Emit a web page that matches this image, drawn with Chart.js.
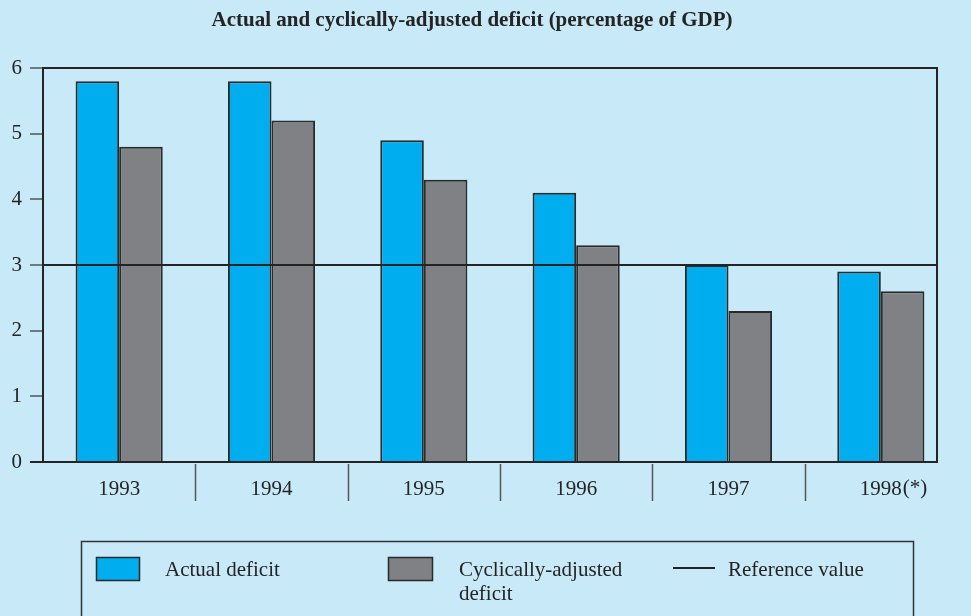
<!DOCTYPE html>
<html><head><meta charset="utf-8">
<script src="https://cdn.jsdelivr.net/npm/chart.js@4"></script>
<style>html,body{margin:0;padding:0;background:#c8e9f8;overflow:hidden}#wrap{width:971px;height:616px;position:relative}</style>
</head><body><div id="wrap"><canvas id="c" width="971" height="616"></canvas></div>
<script>
// ---- data ----
const categories = ['1993', '1994', '1995', '1996', '1997', '1998'];
const categoryNotes = ['', '', '', '', '', '(*)'];
const actualDeficit = [5.8, 5.8, 4.9, 4.1, 3.0, 2.9];
const cyclicallyAdjusted = [4.8, 5.2, 4.3, 3.3, 2.3, 2.6];
const referenceValue = 3;
const yTicks = [0, 1, 2, 3, 4, 5, 6];
const titleText = 'Actual and cyclically-adjusted deficit (percentage of GDP)';
const legendLabels = ['Actual deficit', ['Cyclically-adjusted', 'deficit'], 'Reference value'];

// ---- styles / layout ----
const SERIF = '"Liberation Serif", "Times New Roman", serif';
const BLUE = '#00aeef', GREY = '#808184', DARK = '#242424', TICKGREY = '#6b7c85';
const PLOT_RIGHT = 937;

const decor = {
  id: 'decor',
  afterDatasetsDraw(chart) {
    const {ctx, chartArea, scales} = chart;
    const y = scales.y;
    ctx.save();
    ctx.strokeStyle = DARK; ctx.lineWidth = 2;
    // reference line
    const yr = y.getPixelForValue(referenceValue);
    ctx.beginPath(); ctx.moveTo(chartArea.left, yr); ctx.lineTo(PLOT_RIGHT, yr); ctx.stroke();
    // frame (top, right, bottom)
    ctx.beginPath();
    ctx.moveTo(chartArea.left, chartArea.top);
    ctx.lineTo(PLOT_RIGHT, chartArea.top);
    ctx.lineTo(PLOT_RIGHT, chartArea.bottom);
    ctx.lineTo(chartArea.left - 13, chartArea.bottom);
    ctx.stroke();
    ctx.restore();
  },
  afterDraw(chart) {
    const {ctx, chartArea, scales} = chart;
    const x = scales.x;
    ctx.save();
    // category separators below axis
    ctx.strokeStyle = '#555'; ctx.lineWidth = 1.5;
    for (let i = 1; i < categories.length; i++) {
      const px = Math.round((x.getPixelForValue(i - 1) + x.getPixelForValue(i)) / 2) + 0.5;
      ctx.beginPath(); ctx.moveTo(px, chartArea.bottom + 2); ctx.lineTo(px, chartArea.bottom + 39); ctx.stroke();
    }
    // footnote marks after category labels
    ctx.font = '21px ' + SERIF; ctx.fillStyle = DARK; ctx.textBaseline = 'middle';
    categories.forEach((c, i) => {
      if (!categoryNotes[i]) return;
      const w = ctx.measureText(c).width;
      ctx.textAlign = 'left';
      ctx.fillText(categoryNotes[i], x.getPixelForValue(i) + w / 2 + 1, chartArea.bottom + 26);
    });
    // title
    ctx.font = 'bold 21px ' + SERIF; ctx.textAlign = 'center'; ctx.textBaseline = 'middle';
    ctx.fillText(titleText, 472, 21);
    // legend box
    ctx.strokeStyle = '#333'; ctx.lineWidth = 1.5;
    ctx.strokeRect(81.5, 541.5, 832, 100);
    ctx.strokeStyle = '#2a2a2a';
    ctx.fillStyle = BLUE; ctx.fillRect(96, 557, 44, 24); ctx.strokeRect(96.5, 557.5, 43, 23);
    ctx.fillStyle = GREY; ctx.fillRect(388, 557, 45, 24); ctx.strokeRect(388.5, 557.5, 44, 23);
    ctx.strokeStyle = DARK; ctx.lineWidth = 2;
    ctx.beginPath(); ctx.moveTo(673, 568); ctx.lineTo(715, 568); ctx.stroke();
    ctx.fillStyle = DARK; ctx.font = '21px ' + SERIF; ctx.textAlign = 'left'; ctx.textBaseline = 'middle';
    ctx.fillText(legendLabels[0], 165, 570);
    ctx.fillText(legendLabels[1][0], 459, 570);
    ctx.fillText(legendLabels[1][1], 459, 594);
    ctx.fillText(legendLabels[2], 728, 570);
    ctx.restore();
  }
};

new Chart(document.getElementById('c'), {
  type: 'bar',
  data: {
    labels: categories,
    datasets: [
      {label: 'Actual deficit', data: actualDeficit, backgroundColor: BLUE, borderColor: '#2a2a2a', borderWidth: 2, borderSkipped: 'bottom'},
      {label: 'Cyclically-adjusted deficit', data: cyclicallyAdjusted, backgroundColor: GREY, borderColor: '#2a2a2a', borderWidth: 2, borderSkipped: 'bottom'}
    ]
  },
  options: {
    responsive: false,
    animation: false,
    devicePixelRatio: 1,
    layout: {padding: {top: 68, left: 0, right: 14, bottom: 114}},
    plugins: {legend: {display: false}, title: {display: false}, tooltip: {enabled: false}},
    datasets: {bar: {barPercentage: 1.0, categoryPercentage: 0.572}},
    scales: {
      x: {
        type: 'category',
        grid: {display: false, drawTicks: false},
        border: {display: false},
        ticks: {font: {family: SERIF, size: 21}, color: DARK, padding: 15, maxRotation: 0, autoSkip: false},
        afterFit: s => { s.height = 40; }
      },
      y: {
        min: 0, max: 6,
        afterBuildTicks: s => { s.ticks = yTicks.map(v => ({value: v})); },
        grid: {drawOnChartArea: false, drawTicks: true, tickLength: 13, lineWidth: 2,
               color: c => (c.tick && c.tick.value === 0) ? DARK : TICKGREY},
        border: {display: true, color: DARK, width: 2},
        ticks: {font: {family: SERIF, size: 21}, color: DARK, padding: 8},
        afterFit: s => { s.width = 43; }
      }
    }
  },
  plugins: [decor]
});
</script>
</body></html>
